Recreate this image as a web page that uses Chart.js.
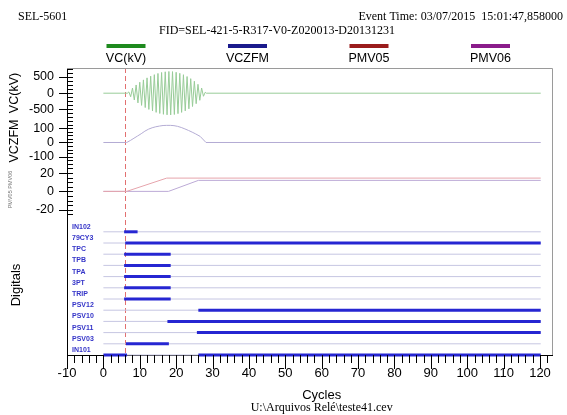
<!DOCTYPE html>
<html>
<head>
<meta charset="utf-8">
<script src="https://cdn.jsdelivr.net/npm/chart.js@4.4.1/dist/chart.umd.min.js"></script>
<style>
  html, body { margin: 0; padding: 0; background: #fff; }
  #wrap { width: 567px; height: 415px; }
</style>
</head>
<body>
<div id="wrap"><canvas id="chart" width="567" height="415"></canvas></div>
<script>
// eixo x e marcas
const xTicks = [-10, 0, 10, 20, 30, 40, 50, 60, 70, 80, 90, 100, 110, 120];
const vcTicks = [-500, 0, 500];
const zfmTicks = [-100, 0, 100];
const pmvTicks = [-20, 0, 20];
const triggerCycle = 6.0;
const recordEnd = 120.2;

// VC(kV) - amostras nos picos de cada meio ciclo
const vcCycles = [0, 6.6, 7.0, 7.5, 8.0, 8.5, 9.0, 9.5, 10.0, 10.5, 11.0, 11.5, 12.0, 12.5, 13.0, 13.5,
  14.0, 14.5, 15.0, 15.5, 16.0, 16.5, 17.0, 17.5, 18.0, 18.5, 19.0, 19.5, 20.0, 20.5, 21.0, 21.5,
  22.0, 22.5, 23.0, 23.5, 24.0, 24.5, 25.0, 25.5, 26.0, 26.5, 27.0, 27.5, 28.0, 28.3, 120.2];
const vcKV = [0, 0, 40, -110, 160, -210, 255, -300, 340, -378, 412, -445, 475, -502, 528, -552,
  574, -594, 612, -628, 642, -654, 663, -670, 673, -672, 668, -660, 648, -634, 616, -595,
  572, -546, 516, -484, 450, -412, 370, -325, 275, -220, 160, -95, 30, 0, 0];

// VCZFM
const zfmCycles = [0, 6.4, 7.4, 8.4, 9.4, 10.4, 11.4, 12.4, 13.4, 14.4, 15.4, 16.4, 17.4, 18.4,
  19.4, 20.4, 21.4, 22.4, 23.4, 24.4, 25.4, 26.6, 28.2, 120.2];
const zfmValues = [0, 0, 14, 30, 46, 62, 80, 94, 104, 111, 116, 120, 121, 121,
  119, 114, 106, 96, 85, 73, 60, 43, 0, 0];

// PMV05 / PMV06
const pmv05Cycles = [0, 6.4, 17.4, 120.2];
const pmv05Values = [0, 0, 14.5, 14.5];
const pmv06Cycles = [0, 17.9, 26.1, 120.2];
const pmv06Values = [0, 0, 12.0, 12.0];

// Digitais (de cima para baixo) e intervalos ativos [inicio, fim] em ciclos
const digitalNames = ['IN102', '79CY3', 'TPC', 'TPB', 'TPA', '3PT', 'TRIP', 'PSV12', 'PSV10', 'PSV11', 'PSV03', 'IN101'];
const digitalOn = [
  [[5.7, 9.4]],
  [[6.0, 120.2]],
  [[5.7, 18.5]],
  [[5.7, 18.5]],
  [[5.7, 18.5]],
  [[5.7, 18.5]],
  [[5.7, 18.5]],
  [[26.1, 120.2]],
  [[17.6, 120.2]],
  [[25.7, 120.2]],
  [[6.2, 18.0]],
  [[0, 6.5], [26.1, 120.2]]
];

const legendNames = ['VC(kV)', 'VCZFM', 'PMV05', 'PMV06'];
const legendColors = ['#1e8a1e', '#1a1a8c', '#9a1c1c', '#8a1c8a'];

const SANS = '"Liberation Sans", Arial, sans-serif';
const SERIF = '"Liberation Serif", "Times New Roman", serif';

function toPoints(xs, ys) {
  return xs.map((x, i) => ({ x: x, y: ys[i] }));
}

// Chart.js desenha o dataset 0 por cima; os traços ativos vêm antes das linhas de base
const datasets = [
  { label: 'VC(kV)', data: toPoints(vcCycles, vcKV), yAxisID: 'vc', borderColor: '#98cc98', borderWidth: 1 },
  { label: 'VCZFM', data: toPoints(zfmCycles, zfmValues), yAxisID: 'zfm', borderColor: '#b4acd4', borderWidth: 1 },
  { label: 'PMV05', data: toPoints(pmv05Cycles, pmv05Values), yAxisID: 'pmv', borderColor: '#e6a4ac', borderWidth: 1 },
  { label: 'PMV06', data: toPoints(pmv06Cycles, pmv06Values), yAxisID: 'pmv', borderColor: '#bcaad6', borderWidth: 1 }
];

digitalNames.forEach((name, i) => {
  const level = digitalNames.length - 1 - i;
  digitalOn[i].forEach(seg => {
    datasets.push({
      label: name,
      data: [{ x: seg[0], y: level }, { x: seg[1], y: level }],
      yAxisID: 'dig', borderColor: '#2626d2', borderWidth: 3, borderCapStyle: 'butt'
    });
  });
});
digitalNames.forEach((name, i) => {
  const level = digitalNames.length - 1 - i;
  datasets.push({
    label: name + ' base',
    data: [{ x: 0, y: level }, { x: recordEnd, y: level }],
    yAxisID: 'dig', borderColor: '#c6c6e2', borderWidth: 1
  });
});

function fixedTicks(values) {
  return function(scale) {
    scale.ticks = values.map(v => ({ value: v }));
  };
}
function fixWidth(scale) { scale.width = 67; }

function analogAxis(min, max, weight, ticks) {
  return {
    type: 'linear', position: 'left', stack: 'panels', stackWeight: weight,
    min: min, max: max,
    afterBuildTicks: fixedTicks(ticks),
    afterFit: fixWidth,
    grid: { display: false, drawTicks: false },
    border: { display: true, color: '#000', width: 1 },
    ticks: { color: '#000', font: { family: SANS, size: 12.5 }, padding: 13, autoSkip: false, callback: v => String(v) }
  };
}

const overlay = {
  id: 'overlay',
  beforeDatasetsDraw(chart) {
    const { ctx, chartArea: a, scales } = chart;
    const x = Math.round(scales.x.getPixelForValue(triggerCycle)) + 0.5;
    ctx.save();
    ctx.strokeStyle = '#e27070';
    ctx.lineWidth = 1;
    ctx.setLineDash([5, 3]);
    ctx.beginPath();
    ctx.moveTo(x, a.top);
    ctx.lineTo(x, a.bottom);
    ctx.stroke();
    ctx.restore();
  },
  afterDraw(chart) {
    const { ctx, chartArea: a, scales } = chart;
    ctx.save();

    // moldura
    ctx.strokeStyle = '#9a9a9a';
    ctx.lineWidth = 1;
    ctx.beginPath();
    ctx.moveTo(a.left, a.top + 0.5);
    ctx.lineTo(a.right + 0.5, a.top + 0.5);
    ctx.lineTo(a.right + 0.5, a.bottom);
    ctx.stroke();

    // marcas do eixo x
    ctx.strokeStyle = '#000';
    const sx = scales.x;
    ctx.beginPath();
    for (let v = Math.ceil(sx.min / 2) * 2; v <= sx.max; v += 2) {
      const px = Math.round(sx.getPixelForValue(v)) + 0.5;
      const len = xTicks.includes(v) ? 14 : 8;
      ctx.moveTo(px, a.bottom);
      ctx.lineTo(px, a.bottom + len);
    }
    ctx.stroke();

    // marcas dos eixos y analogicos
    [['vc', vcTicks], ['zfm', zfmTicks], ['pmv', pmvTicks]].forEach(([id, tks]) => {
      const s = scales[id];
      const step = (tks[1] - tks[0]) / 4;
      ctx.beginPath();
      for (let v = Math.ceil(s.min / step) * step; v <= s.max; v += step) {
        const py = Math.round(s.getPixelForValue(v)) + 0.5;
        const major = tks.includes(v);
        ctx.moveTo(major ? a.left - 8 : a.left, py);
        ctx.lineTo(a.left + 6, py);
      }
      ctx.stroke();
    });

    // nomes dos digitais
    const sd = scales.dig;
    ctx.fillStyle = '#3434c8';
    ctx.font = 'bold 7px ' + SANS;
    ctx.textAlign = 'left';
    ctx.textBaseline = 'middle';
    digitalNames.forEach((name, i) => {
      const level = digitalNames.length - 1 - i;
      ctx.fillText(name, a.left + 5, sd.getPixelForValue(level) - 5);
    });

    // titulos dos eixos y
    const titles = [['vc', 'VC(kV)', 12.5, 15], ['zfm', 'VCZFM', 12.5, 15], ['pmv', 'PMV05 PMV06', 5.5, 10], ['dig', 'Digitals', 13, 16]];
    ctx.textAlign = 'center';
    titles.forEach(([id, text, size, xpos]) => {
      const s = scales[id];
      ctx.save();
      ctx.translate(xpos, (s.top + s.bottom) / 2);
      ctx.rotate(-Math.PI / 2);
      ctx.font = size + 'px ' + SANS;
      ctx.fillStyle = id === 'pmv' ? '#777' : '#000';
      ctx.fillText(text, 0, 0);
      ctx.restore();
    });

    // cabecalho
    ctx.fillStyle = '#000';
    ctx.font = '12px ' + SERIF;
    ctx.textBaseline = 'middle';
    ctx.textAlign = 'left';
    ctx.fillText('SEL-5601', 18, 17);
    ctx.textAlign = 'right';
    ctx.fillText('Event Time: 03/07/2015  15:01:47,858000', 563, 17);
    ctx.textAlign = 'center';
    ctx.fillText('FID=SEL-421-5-R317-V0-Z020013-D20131231', 277, 31);

    // legenda
    legendNames.forEach((name, i) => {
      const cx = 126 + i * 121.5;
      ctx.fillStyle = legendColors[i];
      ctx.fillRect(cx - 19.5, 44, 39, 4);
      ctx.fillStyle = '#000';
      ctx.font = '12.5px ' + SANS;
      ctx.fillText(name, cx, 59);
    });

    // rodape
    const cxAxis = sx.getPixelForValue(60);
    ctx.font = '13px ' + SANS;
    ctx.fillText('Cycles', cxAxis, 395);
    ctx.font = '12px ' + SERIF;
    ctx.fillText('U:\\Arquivos Relé\\teste41.cev', cxAxis, 408);

    ctx.restore();
  }
};

new Chart(document.getElementById('chart'), {
  type: 'line',
  data: { datasets: datasets },
  options: {
    responsive: false,
    animation: false,
    devicePixelRatio: 1,
    clip: false,
    elements: { point: { radius: 0 }, line: { tension: 0, fill: false } },
    layout: { padding: { top: 68, right: 15, left: 0, bottom: 0 } },
    plugins: { legend: { display: false }, tooltip: { enabled: false } },
    scales: {
      x: {
        type: 'linear', position: 'bottom', min: -10, max: 123.3,
        afterBuildTicks: fixedTicks(xTicks),
        afterFit: scale => { scale.height = 60; },
        grid: { display: false, drawTicks: false },
        border: { display: true, color: '#000', width: 1 },
        ticks: { color: '#000', font: { family: SANS, size: 13 }, padding: 11, maxRotation: 0, autoSkip: false, callback: v => String(v) }
      },
      // empilhamento: o primeiro fica embaixo
      dig: {
        type: 'linear', position: 'left', stack: 'panels', stackWeight: 140,
        min: 0, max: 12.5,
        afterFit: fixWidth,
        grid: { display: false, drawTicks: false },
        border: { display: true, color: '#000', width: 1 },
        ticks: { display: false }
      },
      pmv: analogAxis(-25.8, 29.9, 51, pmvTicks),
      zfm: analogAxis(-152, 173, 46, zfmTicks),
      vc: analogAxis(-768, 780, 50, vcTicks)
    }
  },
  plugins: [overlay]
});
</script>
</body>
</html>
